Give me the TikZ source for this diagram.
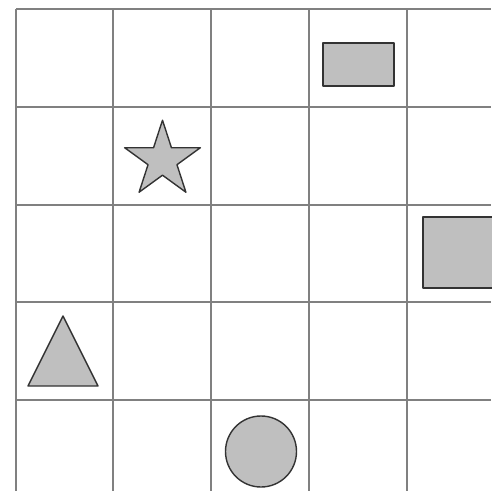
\documentclass[tikz,border=0pt]{standalone}
\begin{document}
\begin{tikzpicture}[x=1pt,y=-1pt,
  gridline/.style={draw=black!50,line width=1.1pt},
  shapefill/.style={fill=black!25,draw=black!80,line width=1.4pt,line join=round}]
\useasboundingbox (0,0) rectangle (492,493);
% grid
\foreach \x in {16,113,211,309,407} \draw[gridline] (\x,9) -- (\x,491);
\foreach \y in {9,107,205,302,400} \draw[gridline] (16,\y) -- (491,\y);
% rectangle
\draw[shapefill] (323,43) rectangle (394,86);
% square (clipped at right edge)
\begin{scope}
\clip (0,0) rectangle (492,493);
\draw[shapefill] (423,217) rectangle (494,288);
\end{scope}
% star
\draw[shapefill,shift={(162.5,160)}]
  (-90:39.8) -- (-54:15.2) -- (-18:39.8) -- (18:15.2) -- (54:39.8) --
  (90:15.2) -- (126:39.8) -- (162:15.2) -- (198:39.8) -- (234:15.2) -- cycle;
% triangle
\draw[shapefill] (63,316) -- (98,386) -- (28,386) -- cycle;
% circle
\draw[shapefill] (261,451.5) circle (35.5);
\end{tikzpicture}
\end{document}
